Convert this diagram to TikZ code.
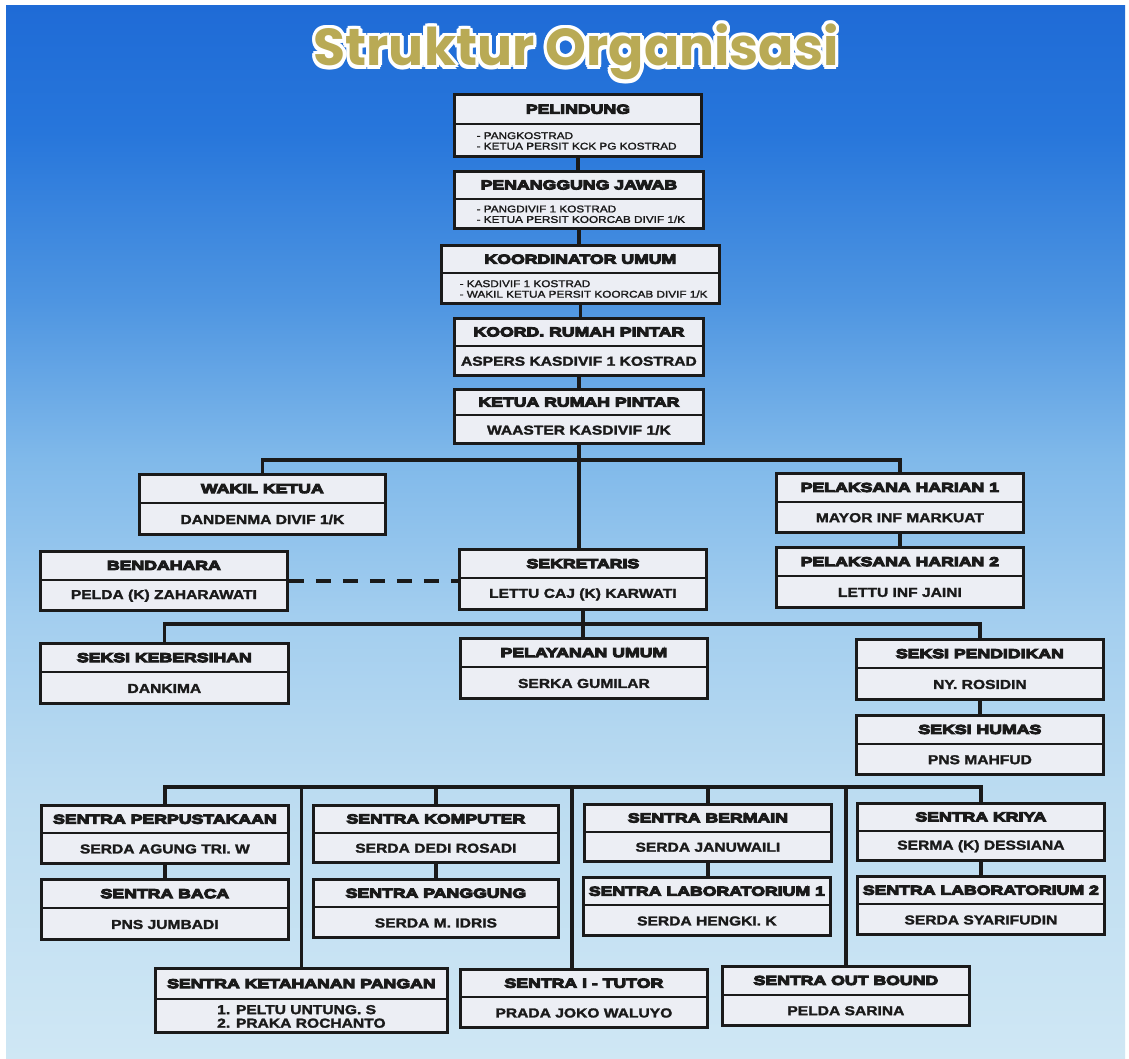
\documentclass[tikz,border=0pt]{standalone}
\usepackage{fontspec}
\setmainfont{Liberation Sans}
\newfontfamily\headfont{Liberation Sans Bold}[FakeBold=8,FakeStretch=1.36]
\newfontfamily\holderfont{Liberation Sans Bold}[FakeBold=2,FakeStretch=1.2]
\newfontfamily\notefont{Liberation Sans}[FakeBold=2,FakeStretch=1.2]
\newfontfamily\titlefont{Poppins}
\usetikzlibrary{calc}

\definecolor{boxfill}{HTML}{ECEEF4}
\definecolor{inkline}{HTML}{1A1A1A}
\definecolor{titlegold}{HTML}{B9AA55}
\definecolor{bgA}{HTML}{CFE7F4}
\definecolor{bgB}{HTML}{BCDCF1}
\definecolor{bgC}{HTML}{A3CEEF}
\definecolor{bgD}{HTML}{80B9EA}
\definecolor{bgE}{HTML}{4E95E1}
\definecolor{bgF}{HTML}{2776DB}
\definecolor{bgG}{HTML}{1F6BD6}

% the picture's box maps to 25bp..75bp of the shading
\pgfdeclareverticalshading{backdrop}{100bp}{color(0bp)=(bgA); color(25bp)=(bgA); color(37.5bp)=(bgB); color(46bp)=(bgC); color(53.5bp)=(bgD); color(61bp)=(bgE); color(69bp)=(bgF); color(75bp)=(bgG); color(100bp)=(bgG)}

\tikzset{
  unit/.style={draw=inkline, line width=2.8pt, fill=boxfill, anchor=north west, inner sep=0pt},
  divider/.style={draw=inkline, line width=2.2pt},
  head/.style={font=\headfont\fontsize{13}{15}\selectfont, text=inkline, inner sep=0pt},
  holder/.style={font=\holderfont\fontsize{13}{13.5}\selectfont, text=inkline, inner sep=0pt},
  notes/.style={font=\notefont\fontsize{9.8}{10.5}\selectfont, align=left, anchor=west},
  link/.style={draw=inkline, line width=3.2pt},
  linkdash/.style={link, dash pattern=on 15pt off 12pt},
  titletext/.style={font=\titlefont\bfseries\fontsize{52}{58}\selectfont, anchor=base, inner sep=0pt}
}

% one box of the chart: name, top left corner, width, height, title, body options, body
\newcommand{\unitbox}[7]{%
  \node[unit, minimum width=#3pt, minimum height=#4pt] (#1) at (#2) {};
  \draw[divider] ($(#1.north west)!0.48!(#1.south west)$) -- ($(#1.north east)!0.48!(#1.south east)$);
  \node[head] (#1-head) at ($(#1.north)!0.25!(#1.south)$) {#5};
  \node[holder, #6] (#1-body) at ($(#1.north)!0.74!(#1.south)$) {#7};
}

\begin{document}
\begin{tikzpicture}[x=1pt, y=-1pt]
    \useasboundingbox (0,0) rectangle (1129,1059);
    \fill[white] (0,0) rectangle (1129,1059);
    \shade[shading=backdrop] (6,6) rectangle (1125,1059);

    % title
    \coordinate (titlepos) at (576,66);
    \foreach \a in {0,30,...,330}
        \node[titletext, text=white] (glow\a) at ($(titlepos)+(\a:3.5)$) {Struktur Organisasi};
    \node[titletext, text=titlegold] (title) at (titlepos) {Struktur Organisasi};

    % top chain
    \unitbox{pelindung}{453,93}{247}{62}{PELINDUNG}{notes, xshift=-101.5pt}{- PANGKOSTRAD\\- KETUA PERSIT KCK PG KOSTRAD}
    \unitbox{penanggung}{453,170}{249}{57}{PENANGGUNG JAWAB}{notes, xshift=-102.5pt}{- PANGDIVIF 1 KOSTRAD\\- KETUA PERSIT KOORCAB DIVIF 1/K}
    \unitbox{koordinator}{440,244}{278}{58}{KOORDINATOR UMUM}{notes, xshift=-121pt}{- KASDIVIF 1 KOSTRAD\\- WAKIL KETUA PERSIT KOORCAB DIVIF 1/K}
    \unitbox{koord}{453,317}{249}{57}{KOORD. RUMAH PINTAR}{}{ASPERS KASDIVIF 1 KOSTRAD}
    \unitbox{ketua}{453,388}{249}{54}{KETUA RUMAH PINTAR}{}{WAASTER KASDIVIF 1/K}

    % second level
    \unitbox{wakil}{138,473}{246}{60}{WAKIL KETUA}{}{DANDENMA DIVIF 1/K}
    \unitbox{harian1}{775,472}{247}{59}{PELAKSANA HARIAN 1}{}{MAYOR INF MARKUAT}
    \unitbox{bendahara}{39,550}{247}{59}{BENDAHARA}{}{PELDA (K) ZAHARAWATI}
    \unitbox{sekretaris}{458,548}{247}{60}{SEKRETARIS}{}{LETTU CAJ (K) KARWATI}
    \unitbox{harian2}{775,546}{247}{60}{PELAKSANA HARIAN 2}{}{LETTU INF JAINI}

    % seksi
    \unitbox{kebersihan}{39,642}{248}{60}{SEKSI KEBERSIHAN}{}{DANKIMA}
    \unitbox{pelayanan}{459,637}{247}{60}{PELAYANAN UMUM}{}{SERKA GUMILAR}
    \unitbox{pendidikan}{855,638}{247}{60}{SEKSI PENDIDIKAN}{}{NY. ROSIDIN}
    \unitbox{humas}{855,714}{247}{59}{SEKSI HUMAS}{}{PNS MAHFUD}

    % sentra
    \unitbox{perpus}{40,804}{247}{58}{SENTRA PERPUSTAKAAN}{}{SERDA AGUNG TRI. W}
    \unitbox{baca}{40,878}{247}{60}{SENTRA BACA}{}{PNS JUMBADI}
    \unitbox{komputer}{312,804}{245}{57}{SENTRA KOMPUTER}{}{SERDA DEDI ROSADI}
    \unitbox{panggung}{312,878}{245}{58}{SENTRA PANGGUNG}{}{SERDA M. IDRIS}
    \unitbox{bermain}{583,803}{247}{57}{SENTRA BERMAIN}{}{SERDA JANUWAILI}
    \unitbox{lab1}{582,876}{247}{58}{SENTRA LABORATORIUM 1}{}{SERDA HENGKI. K}
    \unitbox{kriya}{856,802}{247}{57}{SENTRA KRIYA}{}{SERMA (K) DESSIANA}
    \unitbox{lab2}{856,875}{247}{58}{SENTRA LABORATORIUM 2}{}{SERDA SYARIFUDIN}
    \unitbox{ketahanan}{154,967}{292}{64}{SENTRA KETAHANAN PANGAN}{align=left}{1. PELTU UNTUNG. S\\2. PRAKA ROCHANTO}
    \unitbox{itutor}{459,968}{247}{58}{SENTRA I - TUTOR}{}{PRADA JOKO WALUYO}
    \unitbox{outbound}{721,965}{247}{59}{SENTRA OUT BOUND}{}{PELDA SARINA}

    % connectors
    \coordinate (bus1) at (579,460);
    \coordinate (bus2) at (579,624);
    \coordinate (bus3) at (579,787);
    \draw[link] (pelindung.south) -- (pelindung.south |- penanggung.north);
    \draw[link] (penanggung.south) -- (penanggung.south |- koordinator.north);
    \draw[link] (koordinator.south) -- (koordinator.south |- koord.north);
    \draw[link] (koord.south) -- (koord.south |- ketua.north);
    \draw[link] (ketua.south) -- (ketua.south |- sekretaris.north);
    \draw[link] (wakil.north) |- (bus1) -| (harian1.north);
    \draw[link] (harian1.south) -- (harian1.south |- harian2.north);
    \draw[linkdash] (bendahara.east) -- (bendahara.east -| sekretaris.west);
    \draw[link] (sekretaris.south) -- (sekretaris.south |- pelayanan.north);
    \draw[link] (kebersihan.north) |- (bus2) -| (pendidikan.north);
    \draw[link] (pendidikan.south) -- (pendidikan.south |- humas.north);
    \draw[link] (perpus.north) |- (bus3) -| (kriya.north);
    \draw[link] (perpus.south) -- (perpus.south |- baca.north);
    \draw[link] (komputer.north) -- (komputer.north |- bus3);
    \draw[link] (komputer.south) -- (komputer.south |- panggung.north);
    \draw[link] (bermain.north) -- (bermain.north |- bus3);
    \draw[link] (bermain.south) -- (bermain.south |- lab1.north);
    \draw[link] (kriya.south) -- (kriya.south |- lab2.north);
    \draw[link] (ketahanan.north) -- (ketahanan.north |- bus3);
    \draw[link] ([xshift=-12pt]itutor.north) -- ([xshift=-12pt]itutor.north |- bus3);
    \draw[link] (outbound.north) -- (outbound.north |- bus3);
\end{tikzpicture}
\end{document}
